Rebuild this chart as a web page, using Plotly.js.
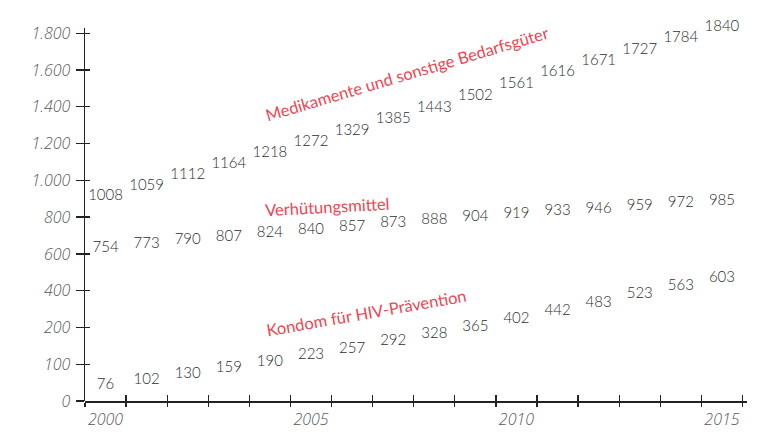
<!DOCTYPE html>
<html>
<head>
<meta charset="utf-8">
<script src="https://cdn.plot.ly/plotly-3.0.1.min.js"></script>
<style>html,body{margin:0;padding:0;background:#fff;}#chart{width:757px;height:439px;}</style>
</head>
<body>
<div id="chart"></div>
<script>
const years = [2000,2001,2002,2003,2004,2005,2006,2007,2008,2009,2010,2011,2012,2013,2014,2015];
const medikamente = [1008,1059,1112,1164,1218,1272,1329,1385,1443,1502,1561,1616,1671,1727,1784,1840];
const verhuetung = [754,773,790,807,824,840,857,873,888,904,919,933,946,959,972,985];
const kondom = [76,102,130,159,190,223,257,292,328,365,402,442,483,523,563,603];
const yTickLabels = ["0","100","200","400","600","800","1.000","1.200","1.400","1.600","1.800"];
const xTickLabels = ["2000","2005","2010","2015"];
const seriesNames = ["Medikamente und sonstige Bedarfsgüter","Verhütungsmittel","Kondom für HIV-Prävention"];

const FONT = "Lato, 'Open Sans', sans-serif";
const TICKFONT = "'Open Sans', Lato, sans-serif";
const numColor = "#2e2e2e";
const red = "#ef4653";

// axis tick positions (uniformly spaced ticks, as in the original drawing)
const yStep = 181;
const yTickVals = yTickLabels.map((_, i) => i * yStep);
const boundaries = years.map(y => y - 0.5).concat([years[years.length - 1] + 0.5]);
const xRange = [1999.5, 2015.61];
const yRange = [0, 1836];      // axis-line extent
const yTextRange = [0, 1885];  // same scale, a little taller so top labels are kept
const yDomainTop = yRange[1] / yTextRange[1];

function textTrace(vals, name) {
  return {
    x: years, y: vals, mode: "text", type: "scatter", yaxis: "y3",
    text: vals.map(String), textposition: "middle center",
    textfont: {family: FONT, size: 15, color: numColor, weight: 300},
    cliponaxis: false, hoverinfo: "skip", name: name, showlegend: false
  };
}

const data = [
  textTrace(medikamente, seriesNames[0]),
  textTrace(verhuetung, seriesNames[1]),
  textTrace(kondom, seriesNames[2]),
  {x: [], y: [], xaxis: "x2", yaxis: "y2", type: "scatter", showlegend: false},
  {x: [], y: [], xaxis: "x3", yaxis: "y", type: "scatter", showlegend: false}
];

const tickFont = {family: TICKFONT, size: 16, color: "#5a5a5a", style: "italic", weight: 300};
const annFont = {family: FONT, size: 16.5, color: red};
const layout = {
  width: 757, height: 439,
  margin: {l: 85, r: 10, t: 18, b: 38},
  paper_bgcolor: "#fff", plot_bgcolor: "rgba(0,0,0,0)",
  showlegend: false,
  xaxis: {
    range: xRange, tickmode: "array", tickvals: boundaries, ticktext: boundaries.map(() => ""),
    ticks: "outside", ticklen: 4, tickwidth: 1.3, tickcolor: "#222",
    showline: true, linecolor: "#222", linewidth: 1.5, anchor: "y",
    showgrid: false, zeroline: false, showticklabels: false, fixedrange: true
  },
  xaxis2: {
    overlaying: "x", anchor: "y", range: xRange, tickmode: "array", tickvals: boundaries,
    ticks: "inside", ticklen: 6, tickwidth: 1.3, tickcolor: "#222",
    showline: false, showgrid: false, zeroline: false, showticklabels: false
  },
  xaxis3: {
    overlaying: "x", anchor: "y", range: xRange, tickmode: "array",
    tickvals: xTickLabels.map(Number), ticktext: xTickLabels,
    ticks: "", showline: false, showgrid: false, zeroline: false, ticklabelstandoff: 7,
    tickfont: tickFont
  },
  yaxis: {
    domain: [0, yDomainTop], anchor: "x",
    range: yRange, tickmode: "array", tickvals: yTickVals, ticktext: yTickLabels,
    ticks: "outside", ticklen: 8, tickwidth: 1.3, tickcolor: "#222",
    showline: true, linecolor: "#222", linewidth: 1.5,
    showgrid: false, zeroline: false, ticklabelstandoff: 2,
    tickfont: tickFont
  },
  yaxis2: {
    domain: [0, yDomainTop], anchor: "x",
    range: yRange, tickmode: "array", tickvals: yTickVals,
    ticks: "inside", ticklen: 5, tickwidth: 1.3, tickcolor: "#222",
    showline: false, showgrid: false, zeroline: false, showticklabels: false
  },
  yaxis3: {
    domain: [0, 1], anchor: "x", range: yTextRange, visible: false,
    showgrid: false, zeroline: false
  },
  annotations: [
    {x: 2007.34, y: 1611, xref: "x", yref: "y3", text: seriesNames[0], showarrow: false, textangle: -16.5, font: annFont},
    {x: 2005.38, y: 957, xref: "x", yref: "y3", text: seriesNames[1], showarrow: false, textangle: -3, font: annFont},
    {x: 2006.36, y: 435, xref: "x", yref: "y3", text: seriesNames[2], showarrow: false, textangle: -10, font: annFont}
  ]
};

Plotly.newPlot("chart", data, layout, {staticPlot: true, displayModeBar: false});
</script>
</body>
</html>
